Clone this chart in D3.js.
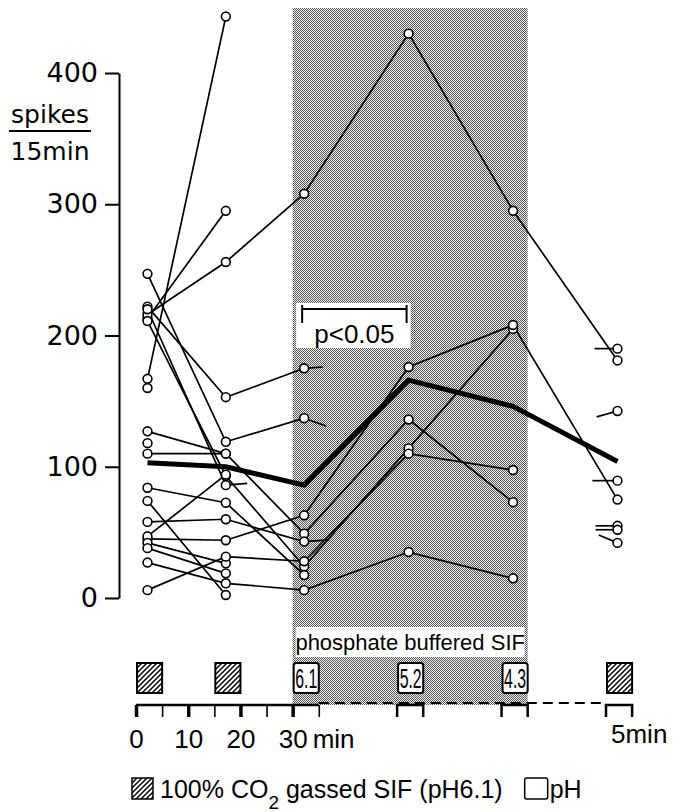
<!DOCTYPE html>
<html>
<head>
<meta charset="utf-8">
<script src="https://cdn.jsdelivr.net/npm/d3@7"></script>
<style>
body { margin: 0; background: #fff; }
text { font-family: "Liberation Sans", Arial, sans-serif; fill: #000; }
</style>
</head>
<body>
<svg id="svg"></svg>
<script>
// time of each 5 min collection period (min); the three pH runs are not on the real time scale
const periodStarts = [0, 15, 30, 50, 70, 90];
const periodKinds = ["co2", "co2", "ph", "ph", "ph", "co2"];
const phLabels = ["", "", "6.1", "5.2", "4.3", ""];
const sampleTimes = [2.2, 17.2, 32.2, 52.2, 72.2, 92.2];
const bufferStart = 30;
const bufferEnd = 75;

const yTicks = [0, 100, 200, 300, 400];
const timeTicks = [0, 5, 10, 15, 20, 25, 30, 35];
const timeLabels = [0, 10, 20, 30];

// spikes per 15 min, one value per period, null = not recorded
const experiments = [
    [167, 443, null, null, null, null],
    [213, 295, null, null, null, null],
    [216, 256, 308, 430, 295, 181],
    [222, 153, 175, null, null, null],
    [247, 119, 137, null, null, null],
    [220, 86, null, null, null, null],
    [211, 93, 24, 114, 205, null],
    [127, 110, null, null, null, null],
    [118, null, null, null, null, null],
    [160, null, null, null, null, null],
    [110, 110, 49, 136, 73, null],
    [84, 72.6, 17.5, null, null, null],
    [74, 2.3, null, null, null, null],
    [58, 60, 43, null, null, null],
    [45, 44, 63, 176, 208, 75],
    [47, 94, null, null, null, null],
    [42, 26.4, null, null, null, null],
    [38, 18.8, null, null, null, null],
    [6, 31.5, 28, 110, 97.5, null],
    [27, 11.2, 6, 35, 15, null],
    [null, null, null, null, null, 190],
    [null, null, null, null, null, 142.5],
    [null, null, null, null, null, 89.4],
    [null, null, null, null, null, 55],
    [null, null, null, null, null, 52],
    [null, null, null, null, null, 42]
];
const meanSpikes = [103, 100, 86, 166, 146, 104];

// cut-off line ends: period index, value, length (min, negative = to the left), value at the end
const stubs = [
    [2, 175, 3.6, 176],
    [2, 137, 4.2, 131],
    [1, 86, 4.1, 87.3],
    [2, 43, 4.8, 44.3],
    [5, 190, -4.4, 190],
    [5, 142.5, -4, 138],
    [5, 89.4, -4.8, 89.4],
    [5, 55, -4.2, 55],
    [5, 52, -4.2, 52],
    [5, 42, -3.6, 48]
];

// significance bar between period 3 and 4
const sigFrom = 2;
const sigTo = 3;
const sigText = "p<0.05";

const width = 673;
const height = 812;

let svg = d3.select("#svg").attr("width", width).attr("height", height);

let x = d3.scaleLinear().domain([0, 90]).range([136, 606]);
let y = d3.scaleLinear().domain([0, 400]).range([598, 73]);
const axisY = 705;

function makePatterns() {
    const defs = svg.append("defs");

    const dots = defs.append("pattern")
        .attr("id", "dots")
        .attr("width", 2).attr("height", 2)
        .attr("patternUnits", "userSpaceOnUse");
    dots.append("rect").attr("width", 2).attr("height", 2).attr("fill", "#f2f2f2");
    dots.append("rect").attr("width", 1).attr("height", 1).attr("fill", "#555");
    dots.append("rect").attr("x", 1).attr("y", 1).attr("width", 1).attr("height", 1).attr("fill", "#555");

    const hatch = defs.append("pattern")
        .attr("id", "hatch")
        .attr("width", 5).attr("height", 5)
        .attr("patternUnits", "userSpaceOnUse");
    hatch.append("rect").attr("width", 5).attr("height", 5).attr("fill", "#fff");
    hatch.append("path")
        .attr("d", "M-1,1 l2,-2 M0,5 l5,-5 M4,6 l2,-2")
        .attr("stroke", "#000")
        .attr("stroke-width", 1.5);
}

function drawBuffer() {
    svg.append("rect")
        .attr("x", x(bufferStart))
        .attr("y", 8)
        .attr("width", x(bufferEnd) - x(bufferStart))
        .attr("height", axisY - 8)
        .attr("fill", "url(#dots)");

    svg.append("rect")
        .attr("x", x(bufferStart) + 3)
        .attr("y", 627)
        .attr("width", x(bufferEnd) - x(bufferStart) - 6)
        .attr("height", 30)
        .attr("fill", "#fff");

    svg.append("text")
        .attr("x", (x(bufferStart) + x(bufferEnd)) / 2)
        .attr("y", 650)
        .attr("text-anchor", "middle")
        .style("font-size", "22px")
        .text("phosphate buffered SIF");
}

function drawExperiments() {
    const line = d3.line()
        .defined(d => d[1] != null)
        .x(d => x(d[0]))
        .y(d => y(d[1]));

    const g = svg.append("g");

    g.selectAll(".exp")
        .data(experiments)
        .enter().append("path")
        .attr("class", "exp")
        .attr("d", d => line(d.map((v, i) => [sampleTimes[i], v])))
        .attr("fill", "none")
        .attr("stroke", "#000")
        .attr("stroke-width", 1.7);

    g.selectAll(".stub")
        .data(stubs)
        .enter().append("line")
        .attr("class", "stub")
        .attr("x1", d => x(sampleTimes[d[0]]))
        .attr("y1", d => y(d[1]))
        .attr("x2", d => x(sampleTimes[d[0]] + d[2]))
        .attr("y2", d => y(d[3]))
        .attr("stroke", "#000")
        .attr("stroke-width", 1.7);

    g.append("path")
        .attr("d", line(meanSpikes.map((v, i) => [sampleTimes[i], v])))
        .attr("fill", "none")
        .attr("stroke", "#000")
        .attr("stroke-width", 5)
        .attr("stroke-linejoin", "round");

    let pts = [];
    experiments.forEach(e => e.forEach((v, i) => {
        if (v != null) pts.push([sampleTimes[i], v]);
    }));

    g.selectAll(".pt")
        .data(pts)
        .enter().append("circle")
        .attr("class", "pt")
        .attr("cx", d => x(d[0]))
        .attr("cy", d => y(d[1]))
        .attr("r", 4.4)
        .attr("fill", "#fff")
        .attr("stroke", "#000")
        .attr("stroke-width", 1.6);
}

function drawSignificance() {
    const x1 = x(sampleTimes[sigFrom]) - 2;
    const x2 = x(sampleTimes[sigTo]) - 2;
    svg.append("rect")
        .attr("x", x1 - 6).attr("y", 303)
        .attr("width", x2 - x1 + 10).attr("height", 45)
        .attr("fill", "#fff");
    svg.append("path")
        .attr("d", `M${x1},305 V323 M${x1},309 H${x2} M${x2},305 V323`)
        .attr("stroke", "#000")
        .attr("stroke-width", 2)
        .attr("fill", "none");
    svg.append("text")
        .attr("x", (x1 + x2) / 2)
        .attr("y", 343)
        .attr("text-anchor", "middle")
        .style("font-size", "26px")
        .text(sigText);
}

function drawYAxis() {
    const ax = svg.append("g")
        .attr("transform", "translate(119,0)")
        .call(d3.axisLeft(y).tickValues(yTicks).tickSize(14).tickSizeOuter(0).tickPadding(7));
    ax.select(".domain").attr("stroke-width", 2);
    ax.selectAll(".tick line").attr("stroke-width", 2);
    ax.selectAll(".tick text")
        .style("font-family", "DejaVu Sans")
        .style("font-size", "27px")
        .attr("fill", "#000");

    svg.append("text").attr("x", 50).attr("y", 123)
        .attr("text-anchor", "middle")
        .style("font-family", "DejaVu Sans").style("font-size", "25px").text("spikes");
    svg.append("line").attr("x1", 9).attr("x2", 91).attr("y1", 131).attr("y2", 131)
        .attr("stroke", "#000").attr("stroke-width", 2);
    svg.append("text").attr("x", 50).attr("y", 160)
        .attr("text-anchor", "middle")
        .style("font-family", "DejaVu Sans").style("font-size", "25px").text("15min");
}

function drawTimeAxis() {
    const ax = svg.append("g")
        .attr("transform", `translate(0,${axisY})`)
        .call(d3.axisBottom(x).tickValues(timeTicks).tickSize(12).tickPadding(13)
            .tickFormat(d => timeLabels.includes(d) ? d : ""));
    ax.select(".domain").remove();
    ax.append("line")
        .attr("x1", x(0)).attr("x2", x(35))
        .attr("stroke", "#000").attr("stroke-width", 2.5);
    ax.selectAll(".tick line")
        .attr("stroke-width", d => timeLabels.includes(d) ? 3.5 : 1.6);
    ax.selectAll(".tick text")
        .style("font-size", "26px")
        .attr("fill", "#000");
    ax.append("text")
        .attr("x", x(30) + 20).attr("y", 43)
        .attr("text-anchor", "start")
        .style("font-size", "26px")
        .text("min");

    // dashed stretch between the pH runs
    ax.append("line")
        .attr("x1", x(35)).attr("x2", x(90))
        .attr("y1", -2).attr("y2", -2)
        .attr("stroke", "#000").attr("stroke-width", 2)
        .attr("stroke-dasharray", "10,6");

    ax.selectAll(".bracket")
        .data(periodStarts.slice(3))
        .enter().append("path")
        .attr("class", "bracket")
        .attr("d", d => `M${x(d)},12 V0 H${x(d + 5)} V12`)
        .attr("fill", "none")
        .attr("stroke", "#000")
        .attr("stroke-width", 2.5);

    ax.append("text")
        .attr("x", x(90) + 5).attr("y", 38)
        .attr("text-anchor", "start")
        .style("font-size", "26px")
        .text("5min");
}

function drawPeriodBoxes() {
    const boxes = svg.selectAll(".pbox")
        .data(periodStarts)
        .enter().append("g")
        .attr("class", "pbox");

    boxes.append("rect")
        .attr("x", d => x(d) + 1)
        .attr("y", 663)
        .attr("width", x(5) - x(0) - 1)
        .attr("height", 30)
        .attr("rx", (d, i) => periodKinds[i] == "ph" ? 2.5 : 0)
        .attr("fill", (d, i) => periodKinds[i] == "co2" ? "url(#hatch)" : "#fff")
        .attr("stroke", "#000")
        .attr("stroke-width", 2);

    boxes.append("text")
        .attr("x", d => (x(d) + x(d + 5)) / 2 + 0.5)
        .attr("y", 688)
        .attr("text-anchor", "middle")
        .style("font-size", "27px")
        .attr("textLength", (d, i) => phLabels[i] ? 22 : null)
        .attr("lengthAdjust", "spacingAndGlyphs")
        .text((d, i) => phLabels[i]);
}

function drawLegend() {
    svg.append("rect")
        .attr("x", 132).attr("y", 778).attr("width", 21).attr("height", 21)
        .attr("fill", "url(#hatch)").attr("stroke", "#000").attr("stroke-width", 1.5);

    const t = svg.append("text")
        .attr("x", 160).attr("y", 798)
        .style("font-size", "25px");
    t.append("tspan").text("100% CO");
    t.append("tspan").attr("dy", 11).style("font-size", "19px").text("2");
    t.append("tspan").attr("dy", -11).text(" gassed SIF (pH6.1)");

    const end = 160 + t.node().getComputedTextLength();
    svg.append("rect")
        .attr("x", end + 22).attr("y", 778).attr("width", 23).attr("height", 21)
        .attr("rx", 2)
        .attr("fill", "#fff").attr("stroke", "#000").attr("stroke-width", 1.5);
    svg.append("text")
        .attr("x", end + 47).attr("y", 798)
        .style("font-size", "25px")
        .text("pH");
}

function initialize() {
    makePatterns();
    drawBuffer();
    drawExperiments();
    drawSignificance();
    drawYAxis();
    drawTimeAxis();
    drawPeriodBoxes();
    drawLegend();
}

initialize();
</script>
</body>
</html>
